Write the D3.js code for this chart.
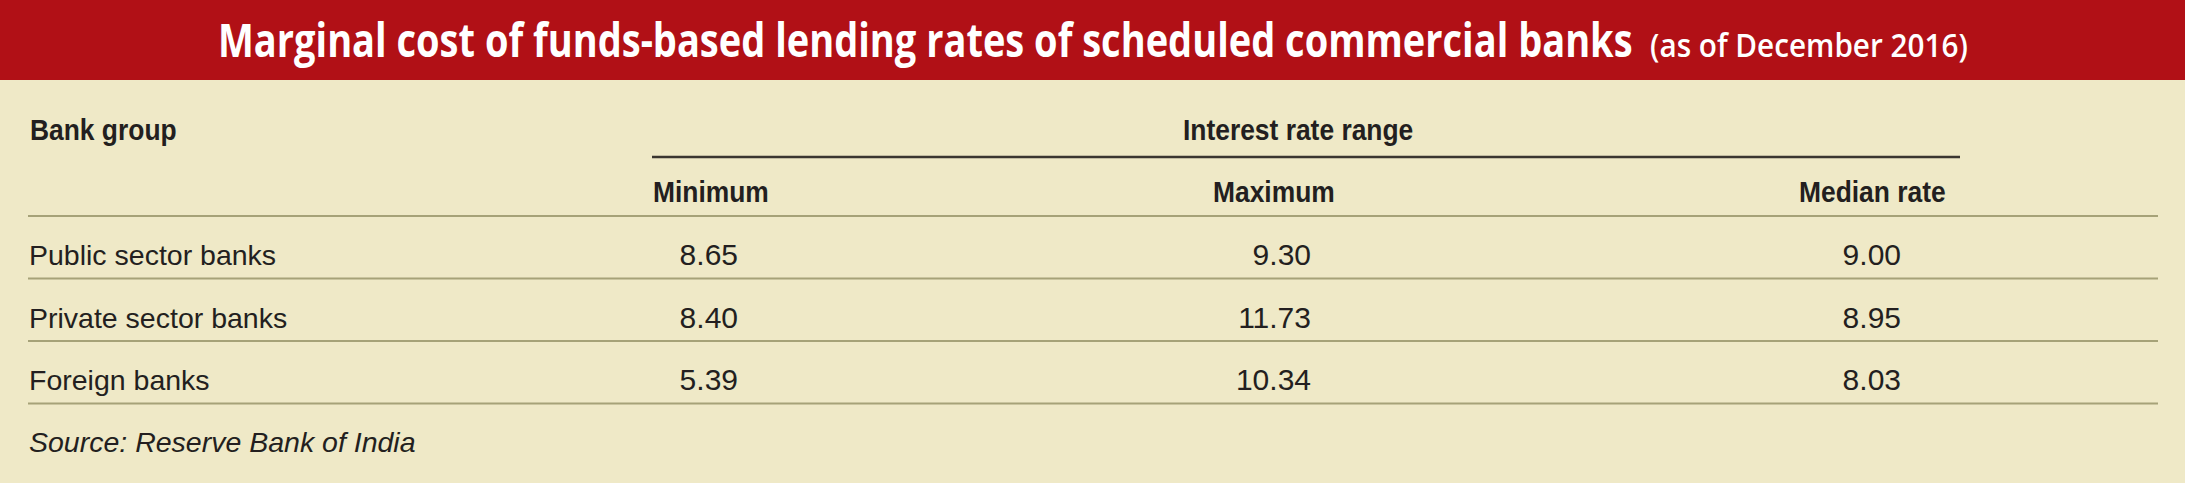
<!DOCTYPE html>
<html>
<head>
<meta charset="utf-8">
<script src="https://cdn.jsdelivr.net/npm/d3@7"></script>
<style>
  body { margin: 0; background: #efe9c7; }
  svg { display: block; }
</style>
</head>
<body>
<div id="app"></div>
<script>
// table content
var title = "Marginal cost of funds-based lending rates of scheduled commercial banks";
var subtitle = "(as of December 2016)";
var rowHeader = "Bank group";
var groupHeader = "Interest rate range";
var columns = ["Minimum", "Maximum", "Median rate"];
var banks = ["Public sector banks", "Private sector banks", "Foreign banks"];
var minimum = [8.65, 8.40, 5.39];
var maximum = [9.30, 11.73, 10.34];
var median = [9.00, 8.95, 8.03];
var source = "Source: Reserve Bank of India";

var width = 2185, height = 483;
var ink = "#231f20", rule = "#a6a278", bodyFont = "'Liberation Sans', Arial, sans-serif";

var svg = d3.select("#app").append("svg").attr("width", width).attr("height", height);
svg.append("rect").attr("width", width).attr("height", height).attr("fill", "#efe9c7");

// red banner with title
svg.append("rect").attr("width", width).attr("height", 80).attr("fill", "#b11016");
var fitText = function (sel, x0, x1) {
  var w = sel.node().getComputedTextLength();
  sel.attr("transform", "translate(" + x0 + ",57) scale(" + ((x1 - x0) / w) + ",1)");
};
var t1 = svg.append("text").attr("fill", "#fff").attr("font-family", "'Open Sans', sans-serif")
  .attr("font-weight", 700).attr("font-size", 47).text(title);
fitText(t1, 218, 1633);
var t2 = svg.append("text").attr("fill", "#fff").attr("font-family", "'Open Sans', sans-serif")
  .attr("font-weight", 600).attr("font-size", 33).text(subtitle);
fitText(t2, 1650, 1968);

// layout scales
var y = d3.scaleBand().domain(banks).range([216, 403.5]);
var colLeft = d3.scaleOrdinal().domain(columns).range([653, 1213, 1799]);
var colRight = d3.scaleOrdinal().domain(columns).range([738, 1311, 1901]);
var values = { "Minimum": minimum, "Maximum": maximum, "Median rate": median };
var fmt = d3.format(".2f");
var lineX = [28, 2158];

var headText = function (txt, x, yy) {
  svg.append("g").attr("transform", "translate(" + x + "," + yy + ")")
    .append("text").attr("transform", "scale(0.88,1)")
    .attr("font-family", bodyFont).attr("font-weight", 700).attr("font-size", 30)
    .attr("fill", ink).text(txt);
};
headText(rowHeader, 30, 140);
headText(groupHeader, 1183, 140);
columns.forEach(function (c) { headText(c, colLeft(c), 202); });

// dark rule under group header
svg.append("line").attr("x1", 652).attr("x2", 1960).attr("y1", 157).attr("y2", 157)
  .attr("stroke", "#3a3630").attr("stroke-width", 2.5);

// olive rules: below header and below each row
var ruleYs = [y.range()[0]].concat(banks.map(function (b) { return y(b) + y.bandwidth(); }));
svg.selectAll("line.rule").data(ruleYs).enter().append("line").attr("class", "rule")
  .attr("x1", lineX[0]).attr("x2", lineX[1])
  .attr("y1", function (d) { return d; }).attr("y2", function (d) { return d; })
  .attr("stroke", rule).attr("stroke-width", 2);

// rows
var row = svg.selectAll("g.row").data(banks).enter().append("g").attr("class", "row")
  .attr("transform", function (b) { return "translate(0," + (y(b) + 49) + ")"; });
row.append("text").attr("x", 29).attr("font-family", bodyFont).attr("font-size", 28.5)
  .attr("fill", ink).text(function (b) { return b; });
columns.forEach(function (c) {
  row.append("text").attr("x", colRight(c)).attr("text-anchor", "end")
    .attr("font-family", bodyFont).attr("font-size", 30).attr("fill", ink)
    .text(function (b, i) { return fmt(values[c][i]); });
});

svg.append("text").attr("x", 29).attr("y", 452).attr("font-family", bodyFont)
  .attr("font-style", "italic").attr("font-size", 28.5).attr("fill", ink).text(source);
</script>
</body>
</html>
